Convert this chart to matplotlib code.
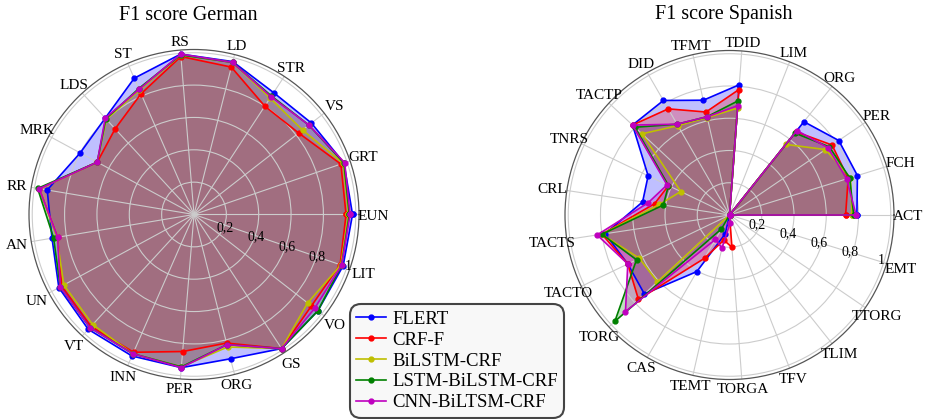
import numpy as np
import matplotlib
matplotlib.use("Agg")
import matplotlib.pyplot as plt
import matplotlib.transforms as mtrans

plt.rcParams['font.family'] = ['Liberation Serif', 'DejaVu Serif']

models = ['FLERT', 'CRF-F', 'BiLSTM-CRF', 'LSTM-BiLSTM-CRF', 'CNN-BiLTSM-CRF']
colors = ['b', 'r', 'y', 'g', 'm']

cats_de = ['EUN', 'GRT', 'VS', 'STR', 'LD', 'RS', 'ST', 'LDS', 'MRK', 'RR',
           'AN', 'UN', 'VT', 'INN', 'PER', 'ORG', 'GS', 'VO', 'LIT']
de_flert = [0.98, 0.98, 0.92, 0.90, 0.975, 0.995, 0.92, 0.81, 0.80, 0.92,
            0.89, 0.95, 0.965, 0.955, 0.95, 0.92, 0.99, 0.97, 0.975]
de_crf = [0.94, 0.96, 0.82, 0.80, 0.94, 0.98, 0.815, 0.72, 0.68, 0.97,
          0.855, 0.93, 0.94, 0.93, 0.85, 0.82, 0.99, 0.92, 0.955]
de_bilstm = [0.955, 0.975, 0.85, 0.86, 0.97, 0.99, 0.84, 0.80, 0.68, 0.97,
             0.86, 0.915, 0.925, 0.94, 0.945, 0.845, 0.99, 0.89, 0.96]
de_lstm = [0.96, 0.98, 0.90, 0.875, 0.97, 0.99, 0.85, 0.805, 0.68, 0.98,
           0.88, 0.94, 0.95, 0.94, 0.945, 0.83, 0.99, 0.97, 0.965]
de_cnn = [0.965, 0.985, 0.90, 0.87, 0.97, 0.995, 0.845, 0.81, 0.68, 0.97,
          0.855, 0.94, 0.95, 0.94, 0.95, 0.83, 0.99, 0.945, 0.965]

cats_es = ['ACT', 'FCH', 'PER', 'ORG', 'LIM', 'TDID', 'TFMT', 'DID', 'TACTP',
           'TNRS', 'CRL', 'TACTS', 'TACTO', 'TORG', 'CAS', 'TEMT', 'TORGA',
           'TFV', 'TLIM', 'TTORG', 'EMT']
es_flert = [0.79, 0.83, 0.82, 0.74, 0.0, 0.81, 0.73, 0.82, 0.82, 0.56, 0.545,
            0.78, 0.70, 0.72, 0.405, 0.12, 0.0, 0.0, 0.0, 0.0, 0.0]
es_crf = [0.72, 0.77, 0.77, 0.66, 0.0, 0.78, 0.655, 0.76, 0.82, 0.42, 0.47,
          0.80, 0.70, 0.77, 0.31, 0.16, 0.20, 0.0, 0.0, 0.0, 0.0]
es_bilstm = [0.76, 0.785, 0.72, 0.56, 0.0, 0.665, 0.62, 0.64, 0.74, 0.335, 0.44,
             0.80, 0.62, 0.61, 0.0, 0.0, 0.0, 0.0, 0.0, 0.0, 0.0]
es_lstm = [0.77, 0.78, 0.75, 0.65, 0.0, 0.71, 0.625, 0.65, 0.80, 0.42, 0.415,
           0.80, 0.64, 0.97, 0.10, 0.0, 0.0, 0.0, 0.0, 0.0, 0.0]
es_cnn = [0.785, 0.76, 0.74, 0.67, 0.0, 0.68, 0.625, 0.65, 0.82, 0.43, 0.51,
          0.83, 0.70, 0.88, 0.175, 0.21, 0.05, 0.0, 0.0, 0.0, 0.0]

r_ticks = [0.2, 0.4, 0.6, 0.8, 1.0]
r_labels = ['0,2', '0,4', '0,6', '0,8', '1']

W, H = 925, 419
fig = plt.figure(figsize=(W / 100, H / 100), dpi=100)
LAB_FS = 11
CAP = 0.66 * LAB_FS * 100 / 72.0


def radar(rect, cats, series, title, title_xy, rlab_deg, rlab_dx, rlab_dy):
    ax = fig.add_axes(rect, projection='polar')
    n = len(cats)
    ang = np.linspace(0, 2 * np.pi, n, endpoint=False)
    angc = np.concatenate([ang, ang[:1]])
    for vals, c, lab in zip(series, colors, models):
        v = np.concatenate([vals, vals[:1]])
        ax.fill(angc, v, color=c, alpha=0.25, lw=0)
        ax.plot(angc, v, color=c, lw=1.2, marker='o', ms=3.5, label=lab)
    ax.set_ylim(0, 1.02)
    ax.set_yticks(r_ticks)
    ax.set_yticklabels([])
    ax.set_xticks(ang)
    ax.set_xticklabels([])
    ax.grid(color='#cccccc', lw=0.8)
    ax.spines['polar'].set_color('#555555')
    ax.spines['polar'].set_linewidth(0.9)
    ax.set_facecolor('white')

    # radial tick labels
    off = mtrans.offset_copy(ax.transData, fig=fig, x=rlab_dx, y=-rlab_dy,
                             units='dots')
    for rv, rl in zip(r_ticks, r_labels):
        ax.text(np.deg2rad(rlab_deg), rv, rl, fontsize=10, ha='center',
                va='center', transform=off)

    # category labels, centred just outside the outer circle
    cx, cy = ax.transAxes.transform((0.5, 0.5))
    rs = 0.5 * ax.bbox.width
    for a, lab in zip(ang, cats):
        R = rs + 8.5 + 6.0 * abs(np.cos(a))
        px = cx + R * np.cos(a)
        py = cy + R * np.sin(a) - CAP / 2
        fig.text(px / W, py / H, lab, fontsize=LAB_FS, ha='center', va='baseline')

    fig.text(title_xy[0] / W, 1 - title_xy[1] / H, title, ha='center',
             va='center', fontsize=14.5)
    return ax


ax1 = radar([29 / W, 1 - 379.5 / H, 330 / W, 330 / H], cats_de,
            [de_flert, de_crf, de_bilstm, de_lstm, de_cnn],
            'F1 score German', (188.5, 16), -17.5, 0, 3)
ax2 = radar([565 / W, 1 - 379.5 / H, 329 / W, 329 / H], cats_es,
            [es_flert, es_crf, es_bilstm, es_lstm, es_cnn],
            'F1 score Spanish', (723.5, 15), -16.0, -3, 1)

handles, labels = ax1.get_legend_handles_labels()
leg = fig.legend(handles, labels, loc='center', bbox_to_anchor=(457 / W, 1 - 361 / H),
                 fontsize=13.5, fancybox=True, framealpha=1, handlelength=1.6,
                 borderpad=0.35, labelspacing=0.2, handletextpad=0.3,
                 borderaxespad=0)
frame = leg.get_frame()
frame.set_edgecolor('#444444')
frame.set_linewidth(1.5)
frame.set_facecolor('#f8f8f8')
frame.set_boxstyle('round,pad=0,rounding_size=0.6')

fig.savefig('out.png', dpi=100)
